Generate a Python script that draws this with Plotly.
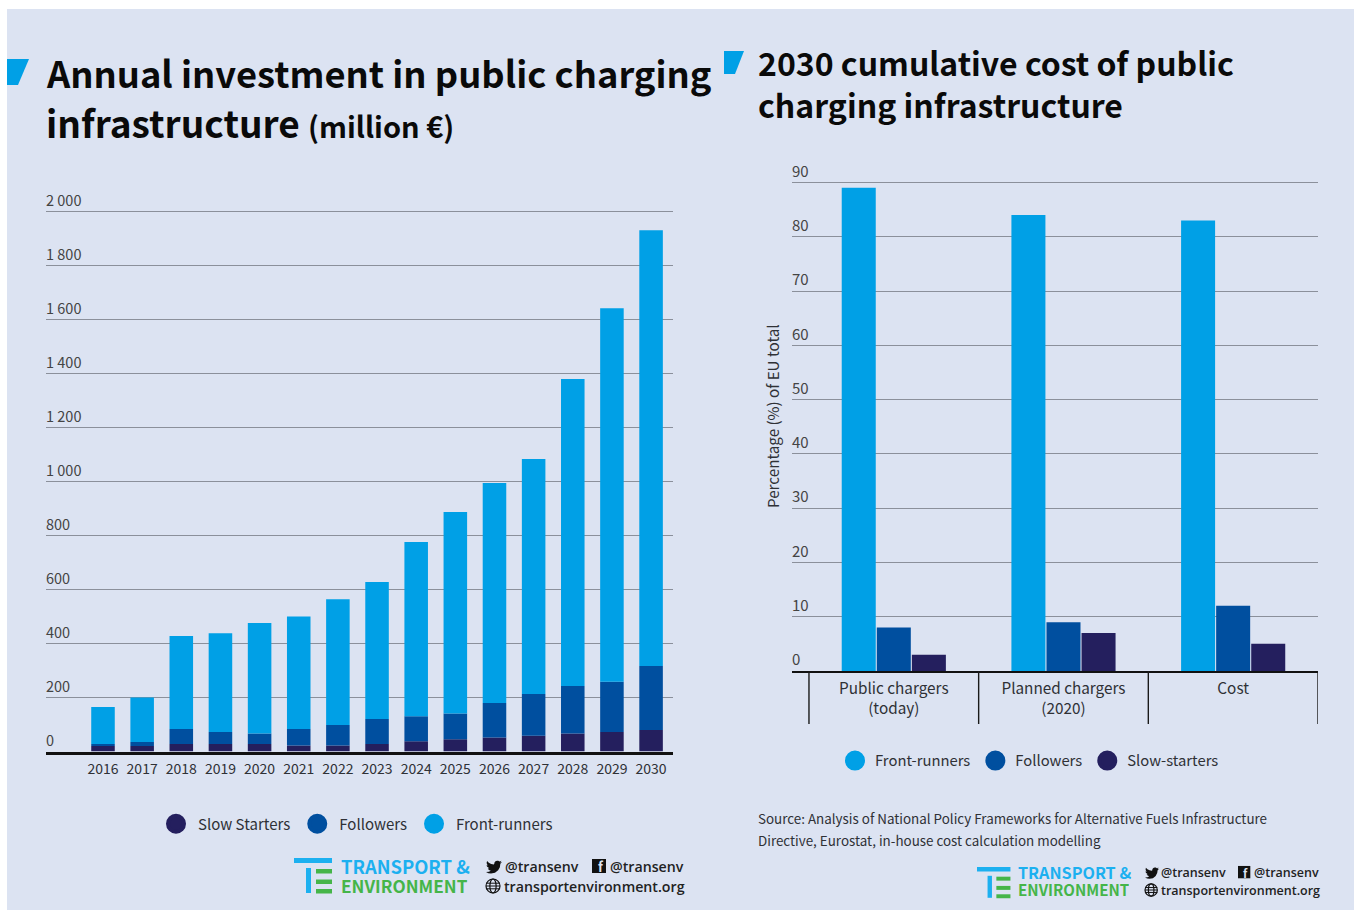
import plotly.graph_objects as go

W, H = 1356, 911
BG = "#dce3f2"
FRONT = "#00a0e6"
FOLLOW = "#004f9f"
SLOW = "#241f5e"
GRID = "#8b909b"
INK = "#2f3136"
SANS = "Noto Sans CJK JP"

years = ["2016", "2017", "2018", "2019", "2020", "2021", "2022", "2023",
         "2024", "2025", "2026", "2027", "2028", "2029", "2030"]
slow_starters = [20, 20, 28, 28, 28, 22, 22, 28, 38, 45, 52, 58, 67, 72, 80]
followers = [8, 15, 55, 44, 39, 61, 76, 92, 93, 96, 128, 155, 176, 186, 237]
front_runners = [137, 165, 345, 366, 409, 417, 466, 508, 645, 746, 814, 870, 1137, 1384, 1614]
invest_ticks = [0, 200, 400, 600, 800, 1000, 1200, 1400, 1600, 1800, 2000]
invest_tick_text = ["0", "200", "400", "600", "800", "1 000", "1 200", "1 400", "1 600", "1 800", "2 000"]

cost_groups = ["Public chargers<br>(today)", "Planned chargers<br>(2020)", "Cost"]
cost_front = [89, 84, 83]
cost_follow = [8, 9, 12]
cost_slow = [3, 7, 5]
cost_ticks = [0, 10, 20, 30, 40, 50, 60, 70, 80, 90]


def px(x):
    return x / W


def py(y):
    return 1 - y / H


def poly(points):
    d = "M" + " L".join(f"{px(x):.5f},{py(y):.5f}" for x, y in points) + " Z"
    return dict(type="path", path=d, xref="paper", yref="paper", line_width=0)


def label(x, y, text, size, color=INK, weight=400, anchor="left", family=SANS, **kw):
    # Annotation boxes carry a 2px inset, taken off left-aligned text here
    left = x - 2 if anchor == "left" else x
    return dict(x=px(left), y=py(y), xref="paper", yref="paper", text=text, showarrow=False,
                xanchor=anchor, yanchor="middle", align=anchor,
                font=dict(family=family, size=size, color=color, weight=weight), **kw)


shapes = [dict(type="rect", xref="paper", yref="paper", x0=px(7), x1=px(1354), y0=py(910), y1=py(9),
               fillcolor=BG, line_width=0, layer="below")]
notes = []

# Corner marks beside the headings
shapes.append({**poly([(7, 59), (29, 59), (18, 85), (7, 85)]), "fillcolor": FRONT})
shapes.append({**poly([(724, 51), (744, 51), (735, 74), (724, 74)]), "fillcolor": FRONT})

notes += [
    label(46, 72, "Annual investment in public charging", 36.3, "#0a0a0a", 700),
    label(46, 122, "infrastructure <span style='font-size:29px'>(million €)</span>", 37, "#0a0a0a", 700),
    label(758, 62, "2030 cumulative cost of public", 32, "#0a0a0a", 700),
    label(758, 104, "charging infrastructure", 32, "#0a0a0a", 700),
    label(772, 416, "Percentage (%) of EU total", 15.2, anchor="center", textangle=-90),
    label(758, 818, "Source: Analysis of National Policy Frameworks for Alternative Fuels Infrastructure", 13.4),
    label(758, 840, "Directive, Eurostat, in-house cost calculation modelling", 13.4),
]

BIRD = [(23.95, 4.57), (21.13, 5.35), (23.29, 2.62), (20.16, 3.81), (18.4, 2.8), (16.5, 2.6), (14.2, 3.5),
        (12.7, 5.3), (12.4, 7.2), (11.78, 8.29), (7.7, 7.5), (4.2, 5.7), (1.64, 3.16), (0.97, 5.64), (1.4, 7.8),
        (3.16, 9.73), (0.93, 9.12), (1.5, 11.4), (4.88, 14), (2.66, 14.09), (4.4, 16.4), (7.27, 17.5),
        (4.4, 19.2), (0, 19.54), (3.6, 21.2), (7.55, 21.75), (13.5, 20.8), (18.2, 17), (20.8, 12.2),
        (21.55, 7.12)]


def brand(x0, y0, k, tx, ty1, ty2, bird_x, fb_x, handle_x, handle2_x, site_x, text_size):
    """Organisation logo and social handles; k scales the logo block."""
    T_BLUE, E_GREEN = "#1cb0f0", "#45b549"
    def bar(x1, y1, x2, y2, c):
        shapes.append(dict(type="rect", xref="paper", yref="paper", x0=px(x1), x1=px(x2), y0=py(y2), y1=py(y1),
                           fillcolor=c, line=dict(color=c, width=0)))
    bar(x0, y0, x0 + 38 * k, y0 + 5 * k, T_BLUE)
    bar(x0 + 12 * k, y0 + 10 * k, x0 + 17 * k, y0 + 35 * k, T_BLUE)
    for dy in (11, 21.5, 31):
        bar(x0 + 22 * k, y0 + dy * k, x0 + 38 * k, y0 + (dy + 4.5) * k, E_GREEN)
    notes.append(label(tx, ty1 - 1, "TRANSPORT &amp;", 18.4 * k, T_BLUE, 700, height=18 * k))
    notes.append(label(tx, ty2 - 1, "ENVIRONMENT", 17.2 * k, E_GREEN, 700, height=18 * k))
    s = 16 * k / 24
    top = ty1 - 8 * k
    shapes.append({**poly([(bird_x + a * s, top + b * s) for a, b in BIRD]), "fillcolor": "#111111"})
    notes.append(label(handle_x, ty1 - 1, "@transenv", text_size, "#222222", 600, family="Open Sans"))
    # Facebook square
    fs = 14 * k
    shapes.append(dict(type="rect", xref="paper", yref="paper", x0=px(fb_x), x1=px(fb_x + fs),
                       y0=py(top + fs), y1=py(top), fillcolor="#111111", line_width=0))
    notes.append(label(fb_x + fs * 0.62, top + fs * 0.55, "f", 13 * k, BG, 700, anchor="center"))
    notes.append(label(handle2_x, ty1 - 1, "@transenv", text_size, "#222222", 600, family="Open Sans"))
    # Globe
    r = 7 * k
    cx, cy = bird_x + r, ty2
    for rx in (r, r * 0.45):
        shapes.append(dict(type="circle", xref="paper", yref="paper", x0=px(cx - rx), x1=px(cx + rx),
                           y0=py(cy + r), y1=py(cy - r), line=dict(color="#111111", width=1.2)))
    for dy in (-r * 0.4, 0, r * 0.4):
        shapes.append(dict(type="line", xref="paper", yref="paper", x0=px(cx - r), x1=px(cx + r),
                           y0=py(cy + dy), y1=py(cy + dy), line=dict(color="#111111", width=1)))
    notes.append(label(site_x, ty2, "transportenvironment.org", text_size, "#222222", 600, family="Open Sans"))


brand(294, 858, 1.0, 341, 867, 886, 486, 592, 505, 610, 504, 14.2)
brand(977, 867, 0.88, 1018, 873, 890, 1145, 1238, 1161, 1254, 1161, 12.5)

# Category dividers below the right-hand axis
for edge in (-0.5, 0.5, 1.5, 2.5):
    shapes.append(dict(type="line", xref="x2", yref="paper", x0=edge, x1=edge, y0=py(671), y1=py(724),
                       line=dict(color="#1a1a1a", width=1.4)))

fig = go.Figure()

stack = [("Slow Starters", slow_starters, SLOW), ("Followers", followers, FOLLOW), ("Front-runners", front_runners, FRONT)]
for name, vals, color in stack:
    fig.add_bar(x=years, y=vals, name=name, marker=dict(color=color, line_width=0),
                xaxis="x", yaxis="y", showlegend=False, legendgroup="annual-" + name)
    fig.add_scatter(x=[None], y=[None], mode="markers", name=name, xaxis="x", yaxis="y", legend="legend",
                    legendgroup="annual-" + name,
                    marker=dict(color=color, size=16, line=dict(color=color, width=4)))

group = [("Front-runners", cost_front, FRONT), ("Followers", cost_follow, FOLLOW), ("Slow-starters", cost_slow, SLOW)]
for name, vals, color in group:
    fig.add_bar(x=cost_groups, y=vals, name=name, marker=dict(color=color, line_width=0),
                xaxis="x2", yaxis="y2", offsetgroup=name, showlegend=False, legendgroup="cost-" + name)
    fig.add_scatter(x=[None], y=[None], mode="markers", name=name, xaxis="x2", yaxis="y2", legend="legend2",
                    legendgroup="cost-" + name,
                    marker=dict(color=color, size=16, line=dict(color=color, width=4)))

legend_style = dict(orientation="h", bgcolor="rgba(0,0,0,0)", xanchor="left", yanchor="middle",
                    itemclick=False, itemdoubleclick=False)

fig.update_layout(
    width=W, height=H, autosize=False, margin=dict(l=0, r=0, t=0, b=0),
    paper_bgcolor="white", plot_bgcolor="rgba(0,0,0,0)",
    barmode="relative", bargap=0.38, bargroupgap=0.03,
    shapes=shapes, annotations=notes,
    font=dict(family=SANS, color=INK),
    legend=dict(x=px(154), y=py(824), itemwidth=34, font=dict(family=SANS, size=15, color=INK), **legend_style),
    legend2=dict(x=px(835), y=py(761), font=dict(family=SANS, size=14.8, color=INK), **legend_style),
    xaxis=dict(domain=[px(46), px(673)], type="category", range=[-1.456, 14.56], anchor="y",
               showgrid=False, showline=True, linecolor="#111111", linewidth=2.5, ticks="",
               tickfont=dict(size=14), ticklabelstandoff=3),
    # Upper range runs past the top tick so its raised label stays inside the axis
    yaxis=dict(domain=[py(751.5), py(184.5)], range=[0, 2100], anchor="x", tickvals=invest_ticks,
               ticktext=invest_tick_text, ticklabelposition="inside", ticklabelshift=-11, ticklabelstandoff=-3,
               showgrid=True, gridcolor=GRID, gridwidth=1.3, zeroline=False, tickfont=dict(size=14.5)),
    xaxis2=dict(domain=[px(792), px(1318)], type="category", range=[-0.6, 2.5], anchor="y2",
                showgrid=False, showline=True, linecolor="#111111", linewidth=2.2, ticks="",
                tickfont=dict(size=15.3), ticklabelstandoff=3),
    yaxis2=dict(domain=[py(671), py(155.3)], range=[0, 95], anchor="x2", tickvals=cost_ticks,
                ticklabelposition="inside", ticklabelshift=-11, ticklabelstandoff=-3,
                showgrid=True, gridcolor=GRID, gridwidth=1, zeroline=False, tickfont=dict(size=15)),
)

fig.write_html("out.html")
